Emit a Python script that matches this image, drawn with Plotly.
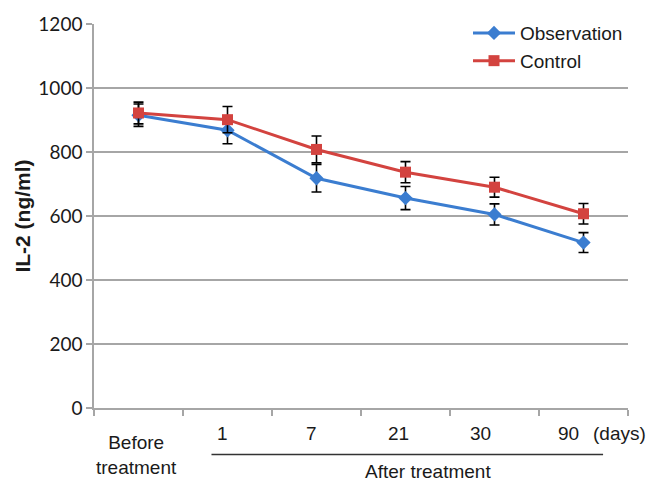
import plotly.graph_objects as go

categories = ["Before treatment", "1", "7", "21", "30", "90"]
observation = [915, 868, 718, 656, 605, 517]
observation_err = [35, 42, 43, 36, 33, 31]
control = [922, 901, 808, 737, 690, 607]
control_err = [34, 41, 42, 33, 31, 32]
y_ticks = [0, 200, 400, 600, 800, 1000, 1200]

BLUE = "#3b7dd0"
RED = "#d3433f"
GRID = "#a6a6a6"
TXT = "#1a1a1a"
FONT = "Liberation Sans, Arial"

fig = go.Figure()
fig.add_trace(go.Scatter(
    x=categories, y=observation, name="Observation", mode="lines+markers",
    line=dict(color=BLUE, width=3),
    marker=dict(symbol="diamond", size=11, color=BLUE),
    error_y=dict(type="data", array=observation_err, visible=True,
                 color="black", thickness=1.6, width=5),
))
fig.add_trace(go.Scatter(
    x=categories, y=control, name="Control", mode="lines+markers",
    line=dict(color=RED, width=3),
    marker=dict(symbol="square", size=11, color=RED),
    error_y=dict(type="data", array=control_err, visible=True,
                 color="black", thickness=1.6, width=5),
))

def py(pix):
    return (408 - pix) / 388.0

label_shift = [-5, -5, -7, -14, -15]
annotations = []
for i, c in enumerate(categories[1:], start=1):
    annotations.append(dict(x=i, y=py(434), xref="x", yref="paper", text=c,
                            showarrow=False, xshift=label_shift[i - 1],
                            xanchor="center", yanchor="middle",
                            font=dict(family=FONT, size=19, color=TXT)))
annotations.append(dict(x=0, y=py(455.5), xref="x", yref="paper", text="Before<br>treatment",
                        showarrow=False, align="center", xanchor="center", yanchor="middle",
                        xshift=-2, font=dict(family=FONT, size=19, color=TXT)))
annotations.append(dict(x=(619 - 94) / 534, y=py(434), xref="paper", yref="paper", text="(days)",
                        showarrow=False, xanchor="center", yanchor="middle",
                        font=dict(family=FONT, size=19, color=TXT)))
annotations.append(dict(x=3.25, y=py(472), xref="x", yref="paper", text="After treatment",
                        showarrow=False, xanchor="center", yanchor="middle",
                        font=dict(family=FONT, size=19, color=TXT)))

fig.update_layout(
    width=654, height=484,
    margin=dict(l=94, r=26, t=20, b=76),
    paper_bgcolor="white", plot_bgcolor="white",
    showlegend=True,
    legend=dict(x=(468 - 94) / 534, y=1 + 10 / 388, xanchor="left", yanchor="top",
                bgcolor="rgba(0,0,0,0)", tracegroupgap=0, itemwidth=42,
                font=dict(family=FONT, size=19, color=TXT)),
    annotations=annotations,
    shapes=[dict(type="line", xref="x", yref="paper", x0=0.82, x1=5.22,
                 y0=py(455), y1=py(455), line=dict(color="#333", width=1.3))],
    xaxis=dict(type="category", range=[-0.5, 5.5], showticklabels=False,
               tickson="boundaries", ticks="outside", ticklen=6, tickcolor=GRID,
               tickwidth=1.5, showline=True, linecolor=GRID, linewidth=1.5,
               showgrid=False, zeroline=False),
    yaxis=dict(range=[0, 1200], tickvals=y_ticks, ticks="outside", ticklen=6,
               tickcolor=GRID, tickwidth=1.5, showline=True, linecolor=GRID,
               linewidth=1.5, gridcolor=GRID, gridwidth=1.5, zeroline=False,
               tickfont=dict(family="Lato, sans-serif", size=19, color=TXT),
               title=dict(text="<b>IL-2 (ng/ml)</b>", standoff=2,
                          font=dict(family=FONT, size=21, color=TXT))),
)

fig.write_html("out.html")
